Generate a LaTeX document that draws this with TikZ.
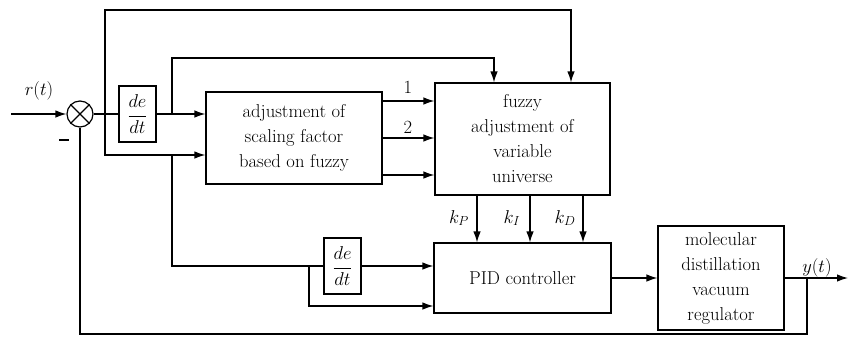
\RequirePackage{fix-cm}
\documentclass[tikz,border=0pt]{standalone}
\usepackage{fontspec}
\usetikzlibrary{arrows.meta}
\begin{document}
\begin{tikzpicture}[x=1pt,y=-1pt,
  line width=1.2pt,
  >={Latex[length=11pt,width=7.5pt]},
  every node/.style={font=\fontsize{18.6}{25}\selectfont},
  blk/.style={draw, align=center, inner sep=0pt},
  ddt/.style={draw, inner sep=0pt, minimum width=37pt, minimum height=56pt},
  lbl/.style={inner sep=0pt}
]
\useasboundingbox (0,0) rectangle (848,337);

% blocks
\node[draw, circle, minimum size=26pt, inner sep=0pt] (sum) at (80,114) {};
\draw (sum.north east) -- (sum.south west) (sum.north west) -- (sum.south east);
\node[ddt] (d1) at (137.5,114) {$\displaystyle\frac{de}{dt}$};
\node[blk, minimum width=176pt, minimum height=92pt] (adj) at (294,138)
  {adjustment of\\scaling factor\\based on fuzzy};
\node[blk, minimum width=175pt, minimum height=112pt] (fuz) at (522.5,139)
  {fuzzy\\adjustment of\\variable\\universe};
\node[ddt] (d2) at (342.5,266) {$\displaystyle\frac{de}{dt}$};
\node[blk, minimum width=177pt, minimum height=70pt] (pid) at (522.5,278) {PID controller};
\node[blk, minimum width=126pt, minimum height=104pt] (reg) at (721,278)
  {molecular\\distillation\\vacuum\\regulator};

% routing points
\coordinate (src) at (11,114);
\coordinate (ja) at (105,114);
\coordinate (jb) at (172,114);
\coordinate (top1) at (105,10);
\coordinate (top2) at (172,58);
\coordinate (fa) at (571,0);
\coordinate (fb) at (494,0);
\coordinate (e2) at (105,155);
\coordinate (jc) at (172,155);
\coordinate (jd) at (309,266);
\coordinate (lo2) at (309,306);
\coordinate (out) at (848,278);
\coordinate (je) at (807,278);
\coordinate (fbk) at (807,334);
\coordinate (ya) at (0,101);
\coordinate (yb) at (0,138);
\coordinate (yc) at (0,175);
\coordinate (xp) at (477,0);
\coordinate (xi) at (530,0);
\coordinate (xd) at (583,0);

% connectors
\draw[->] (src) -- (sum.west);
\draw (sum.east) -- (d1.west);
\draw[->] (ja) |- (fa |- top1) -- (fa |- fuz.north);
\draw[->] (ja) |- (adj.west |- e2);
\draw[->] (d1.east) -- (adj.west |- d1.east);
\draw[->] (jb) |- (fb |- top2) -- (fb |- fuz.north);
\draw (jc) |- (d2.west);
\draw[->] (d2.east) -- (pid.west |- d2.east);
\draw[->] (jd) |- (pid.west |- lo2);
\draw[->] (adj.east |- ya) -- (fuz.west |- ya);
\draw[->] (adj.east |- yb) -- (fuz.west |- yb);
\draw[->] (adj.east |- yc) -- (fuz.west |- yc);
\draw[->] (xp |- fuz.south) -- (xp |- pid.north);
\draw[->] (xi |- fuz.south) -- (xi |- pid.north);
\draw[->] (xd |- fuz.south) -- (xd |- pid.north);
\draw[->] (pid.east) -- (reg.west);
\draw[->] (reg.east) -- (out);
\draw (je) -- (fbk) -| (sum.south);

% labels
\node[lbl] (lr) at (39,91) {$r(t)$};
\node[lbl] (ly) at (817,268) {$y(t)$};
\node[lbl, fill=black, minimum width=10pt, minimum height=2.6pt] (lm) at (64,140) {};
\node[lbl] (l1) at (408,87) {1};
\node[lbl] (l2) at (408,127) {2};
\node[lbl] (lp) at (459,218) {$k_P$};
\node[lbl] (li) at (512,218) {$k_I$};
\node[lbl] (ld) at (565,218) {$k_D$};
\end{tikzpicture}
\end{document}
